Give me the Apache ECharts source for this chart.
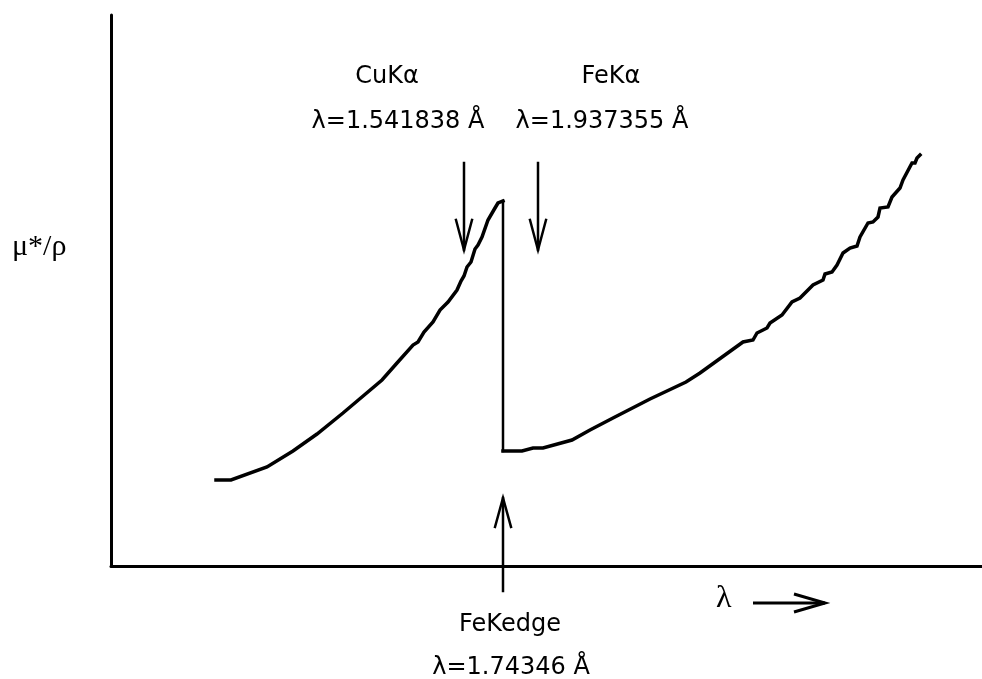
<!DOCTYPE html>
<html>
<head>
<meta charset="utf-8">
<title>Fe K absorption edge</title>
<script src="https://cdn.jsdelivr.net/npm/echarts@6/dist/echarts.min.js"></script>
<style>
  html, body { margin: 0; padding: 0; background: #fff; }
  #chart { width: 982px; height: 679px; }
</style>
</head>
<body>
<div id="chart"></div>
<script>
// Mass absorption coefficient of iron versus wavelength (schematic, arbitrary units)
// Short-wavelength side of the K edge: [lambda, mu*/rho]
var belowEdge = [
  [10.5, 8.6], [12.0, 8.6], [15.6, 9.9], [18.2, 11.5], [20.6, 13.2], [23.2, 15.3],
  [27.1, 18.6], [28.6, 20.3], [30.2, 22.1], [30.7, 22.4], [31.3, 23.4], [32.2, 24.4],
  [32.9, 25.6], [33.7, 26.4], [34.6, 27.6], [35.0, 28.5], [35.3, 29.0], [35.6, 29.9],
  [36.0, 30.4], [36.4, 31.7], [36.7, 32.1], [37.1, 32.9], [37.7, 34.6], [38.4, 35.8],
  [38.7, 36.3], [38.9, 36.5], [39.2, 36.5]
];
// The absorption jump at the K edge
var edgeJump = [[39.2, 36.5], [39.2, 11.5]];
// Long-wavelength side of the K edge
var aboveEdge = [
  [39.2, 11.5], [41.1, 11.5], [42.2, 11.8], [43.2, 11.8], [46.1, 12.6], [47.9, 13.6],
  [50.2, 14.8], [53.9, 16.7], [57.5, 18.4], [58.9, 19.3], [63.2, 22.4], [64.2, 22.6],
  [64.6, 23.3], [65.6, 23.8], [65.9, 24.3], [67.1, 25.1], [68.1, 26.4], [68.9, 26.8],
  [70.2, 28.1], [71.2, 28.6], [71.4, 29.2], [72.1, 29.4], [72.6, 30.1], [73.2, 31.3],
  [73.9, 31.8], [74.6, 32.0], [74.9, 32.9], [75.7, 34.3], [76.2, 34.4], [76.7, 34.9],
  [76.9, 35.8], [77.7, 35.9], [78.1, 36.9], [78.9, 37.8], [79.2, 38.6], [80.1, 40.3],
  [80.4, 40.3], [80.6, 40.8], [80.9, 41.1]
];
// Characteristic lines and the edge: name, wavelength text, position on the lambda axis
var lineNames = ['CuK\u03b1', 'FeK\u03b1', 'FeKedge'];
var lineWavelengths = ['\u03bb=1.541838 \u00c5', '\u03bb=1.937355 \u00c5', '\u03bb=1.74346 \u00c5'];
var linePositions = [35.3, 42.7, 39.2];

var X_MAX = 87.1, Y_MAX = 55.1;
var black = '#000';
var textFont = 'DejaVu Sans';

function lineSeries(data, width) {
  return {
    type: 'line', data: data, symbol: 'none', silent: true, clip: false,
    lineStyle: { color: black, width: width, cap: 'square', join: 'miter' }
  };
}

// Arrow pointing down (from above the curve) or up (from below the axis)
function arrowSeries(x, yTail, yTip, headLen, headHalf) {
  var dir = yTip > yTail ? 1 : -1;
  var yBase = yTip - dir * headLen;
  return [
    lineSeries([[x, yTail], [x, yTip]], 2.5),
    lineSeries([[x - headHalf, yBase], [x, yTip], [x + headHalf, yBase]], 2.5)
  ];
}

var chart = echarts.init(document.getElementById('chart'), null, { renderer: 'canvas' });

var series = [
  lineSeries(belowEdge, 3.5),
  lineSeries(edgeJump, 2.5),
  lineSeries(aboveEdge, 3.5)
];
// CuKa and FeKa arrows point down onto the curve, the edge arrow points up from below the axis
series = series.concat(arrowSeries(linePositions[0], 40.3, 31.6, 3.0, 0.8));
series = series.concat(arrowSeries(linePositions[1], 40.3, 31.6, 3.0, 0.8));
series = series.concat(arrowSeries(linePositions[2], -2.5, 6.8, 2.9, 0.8));

// Text anchors in axis units, centred on each text block
var labelAnchors = [
  [linePositions[0] - 7.7, 48.9, lineNames[0]],
  [linePositions[0] - 6.6, 44.4, lineWavelengths[0]],
  [linePositions[1] + 7.3, 48.9, lineNames[1]],
  [linePositions[1] + 6.4, 44.4, lineWavelengths[1]],
  [linePositions[2] + 0.7, -5.9, lineNames[2]],
  [linePositions[2] + 0.8, -10.2, lineWavelengths[2]]
];

var baseOption = {
  animation: false,
  backgroundColor: '#fff',
  grid: { left: 111, right: 0, top: 15, bottom: 113, containLabel: false },
  xAxis: {
    type: 'value', min: 0, max: X_MAX,
    axisLine: { show: true, onZero: false, lineStyle: { color: black, width: 3 } },
    axisTick: { show: false }, axisLabel: { show: false }, splitLine: { show: false }
  },
  yAxis: {
    type: 'value', min: 0, max: Y_MAX,
    axisLine: { show: true, onZero: false, lineStyle: { color: black, width: 3 } },
    axisTick: { show: false }, axisLabel: { show: false }, splitLine: { show: false }
  },
  series: series
};
chart.setOption(baseOption);

// Texts and axis captions are drawn as graphic elements, placed through the axes
var graphics = labelAnchors.map(function (a) {
  var p = chart.convertToPixel({ gridIndex: 0 }, [a[0], a[1]]);
  return {
    type: 'text', x: p[0], y: p[1], silent: true,
    style: {
      text: a[2], fill: black, font: '24px "' + textFont + '"',
      align: 'center', verticalAlign: 'middle'
    }
  };
});
graphics.push(
  {
    type: 'text', left: 12, top: 232, silent: true,
    style: { text: '\u03bc*/\u03c1', font: '30px "Liberation Serif"', fill: black }
  },
  {
    type: 'text', left: 716, top: 583, silent: true,
    style: { text: '\u03bb', font: '32px "Liberation Serif"', fill: black }
  },
  {
    type: 'polyline', silent: true,
    shape: { points: [[753, 603], [825, 603]] },
    style: { stroke: black, lineWidth: 3, fill: null }
  },
  {
    type: 'polyline', silent: true,
    shape: { points: [[794, 594], [825, 603], [794, 612]] },
    style: { stroke: black, lineWidth: 3, fill: null }
  }
);
chart.setOption({ graphic: graphics });
</script>
</body>
</html>
